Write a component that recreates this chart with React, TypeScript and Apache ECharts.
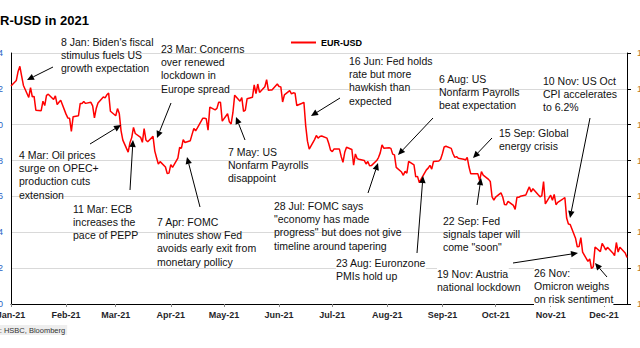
import React, { useEffect, useRef } from "react";
import * as echarts from "echarts";

const MONTHS = ["Jan", "Feb", "Mar", "Apr", "May", "Jun", "Jul", "Aug", "Sep", "Oct", "Nov", "Dec"];
const SERIES_NAME = "EUR-USD";
const TITLE = "EUR-USD in 2021";
const SOURCE = "Source: HSBC, Bloomberg";

// [day of month, EUR-USD]
const jan: [number, number][] = [[1, 1.2216], [4, 1.2247], [5, 1.2297], [6, 1.2326], [7, 1.2271], [8, 1.2219], [11, 1.2152], [12, 1.2207], [13, 1.2156], [14, 1.2158], [15, 1.2081], [18, 1.2078], [19, 1.2131], [20, 1.2107], [21, 1.2164], [22, 1.2170], [25, 1.2141], [26, 1.2161], [27, 1.2112], [28, 1.2125], [29, 1.2137]];
const feb: [number, number][] = [[1, 1.2059], [2, 1.2038], [3, 1.2036], [4, 1.1963], [5, 1.2045], [8, 1.2050], [9, 1.2119], [10, 1.2118], [11, 1.2130], [12, 1.2119], [15, 1.2125], [16, 1.2105], [17, 1.2038], [18, 1.2090], [19, 1.2121], [22, 1.2155], [23, 1.2150], [24, 1.2167], [25, 1.2176], [26, 1.2075]];
const mar: [number, number][] = [[1, 1.2050], [2, 1.2090], [3, 1.2062], [4, 1.1966], [5, 1.1914], [8, 1.1847], [9, 1.1899], [10, 1.1928], [11, 1.1985], [12, 1.1951], [15, 1.1930], [16, 1.1902], [17, 1.1978], [18, 1.1915], [19, 1.1905], [22, 1.1935], [23, 1.1853], [24, 1.1816], [25, 1.1780], [26, 1.1794], [29, 1.1764], [30, 1.1728], [31, 1.1730]];
const apr: [number, number][] = [[1, 1.1777], [2, 1.1762], [5, 1.1813], [6, 1.1873], [7, 1.1869], [8, 1.1916], [9, 1.1901], [12, 1.1911], [13, 1.1946], [14, 1.1979], [15, 1.1966], [16, 1.1983], [19, 1.2036], [20, 1.2036], [21, 1.2033], [22, 1.1970], [23, 1.2098], [26, 1.2083], [27, 1.2091], [28, 1.2125], [29, 1.2125], [30, 1.2020]];
const may: [number, number][] = [[3, 1.2061], [4, 1.2016], [5, 1.2004], [6, 1.2067], [7, 1.2165], [10, 1.2131], [11, 1.2151], [12, 1.2074], [13, 1.2081], [14, 1.2145], [17, 1.2153], [18, 1.2222], [19, 1.2174], [20, 1.2227], [21, 1.2180], [24, 1.2212], [25, 1.2251], [26, 1.2192], [27, 1.2193], [28, 1.2194], [31, 1.2227]];
const jun: [number, number][] = [[1, 1.2213], [2, 1.2211], [3, 1.2127], [4, 1.2166], [7, 1.2190], [8, 1.2172], [9, 1.2178], [10, 1.2176], [11, 1.2107], [14, 1.2120], [15, 1.2125], [16, 1.1995], [17, 1.1908], [18, 1.1864], [21, 1.1917], [22, 1.1940], [23, 1.1925], [24, 1.1934], [25, 1.1937], [28, 1.1925], [29, 1.1895], [30, 1.1858]];
const jul: [number, number][] = [[1, 1.1850], [2, 1.1865], [5, 1.1864], [6, 1.1823], [7, 1.1790], [8, 1.1846], [9, 1.1874], [12, 1.1862], [13, 1.1775], [14, 1.1837], [15, 1.1811], [16, 1.1807], [19, 1.1801], [20, 1.1781], [21, 1.1795], [22, 1.1771], [23, 1.1772], [26, 1.1800], [27, 1.1817], [28, 1.1843], [29, 1.1888], [30, 1.1869]];
const aug: [number, number][] = [[2, 1.1871], [3, 1.1868], [4, 1.1836], [5, 1.1832], [6, 1.1762], [9, 1.1736], [10, 1.1718], [11, 1.1740], [12, 1.1730], [13, 1.1796], [16, 1.1776], [17, 1.1709], [18, 1.1712], [19, 1.1677], [20, 1.1697], [23, 1.1748], [24, 1.1758], [25, 1.1773], [26, 1.1752], [27, 1.1795], [30, 1.1798], [31, 1.1807]];
const sep: [number, number][] = [[1, 1.1838], [2, 1.1876], [3, 1.1880], [6, 1.1868], [7, 1.1838], [8, 1.1818], [9, 1.1822], [10, 1.1813], [13, 1.1808], [14, 1.1803], [15, 1.1818], [16, 1.1764], [17, 1.1726], [20, 1.1726], [21, 1.1726], [22, 1.1688], [23, 1.1738], [24, 1.1719], [27, 1.1695], [28, 1.1683], [29, 1.1597], [30, 1.1580]];
const oct: [number, number][] = [[1, 1.1596], [4, 1.1620], [5, 1.1597], [6, 1.1555], [7, 1.1553], [8, 1.1572], [11, 1.1550], [12, 1.1528], [13, 1.1595], [14, 1.1595], [15, 1.1601], [18, 1.1608], [19, 1.1632], [20, 1.1653], [21, 1.1625], [22, 1.1643], [25, 1.1609], [26, 1.1598], [27, 1.1603], [28, 1.1683], [29, 1.1558]];
const nov: [number, number][] = [[1, 1.1607], [2, 1.1579], [3, 1.1611], [4, 1.1554], [5, 1.1567], [8, 1.1587], [9, 1.1594], [10, 1.1480], [11, 1.1446], [12, 1.1444], [15, 1.1367], [16, 1.1319], [17, 1.1320], [18, 1.1370], [19, 1.1289], [22, 1.1238], [23, 1.1251], [24, 1.1198], [25, 1.1208], [26, 1.1318], [29, 1.1292], [30, 1.1338]];
const dec: [number, number][] = [[1, 1.1321], [2, 1.1301], [3, 1.1316], [6, 1.1285], [7, 1.1270], [8, 1.1343], [9, 1.1290], [10, 1.1316], [13, 1.1285], [14, 1.1259]];

const Y_MIN = 1.10;
const Y_MAX = 1.24;
const Y_STEP = 0.02;

// Annotation texts
const noteTexts = [
  "8 Jan: Biden's fiscal\nstimulus fuels US\ngrowth expectation",
  "23 Mar: Concerns\nover renewed\nlockdown in\nEurope spread",
  "4 Mar: Oil prices\nsurge on OPEC+\nproduction cuts\nextension",
  "11 Mar: ECB\nincreases the\npace of PEPP",
  "7 Apr: FOMC\nminutes show Fed\navoids early exit from\nmonetary pollicy",
  "7 May: US\nNonfarm Payrolls\ndisappoint",
  "16 Jun: Fed holds\nrate but more\nhawkish than\nexpected",
  "6 Aug: US\nNonfarm Payrolls\nbeat expectation",
  "10 Nov: US Oct\nCPI accelerates\nto 6.2%",
  "15 Sep: Global\nenergy crisis",
  "28 Jul: FOMC says\n\"economy has made\nprogress\" but does not give\ntimeline around tapering",
  "23 Aug: Euronzone\nPMIs hold up",
  "22 Sep: Fed\nsignals taper will\ncome \"soon\"",
  "19 Nov: Austria\nnational lockdown",
  "26 Nov:\nOmicron weighs\non risk sentiment",
];

// layout (viewport pixels): text top-left, arrow start -> tip, lines with white fill
const noteLayout: { x: number; y: number; a: [number, number, number, number]; fill?: number[] }[] = [
  { x: 61, y: 35, a: [53, 67, 27, 80] },
  { x: 161, y: 42, a: [171, 103, 157, 138], fill: [3] },
  { x: 19, y: 148, a: [90, 144, 121, 125] },
  { x: 73, y: 202, a: [130, 190, 133, 140] },
  { x: 157, y: 215, a: [200, 207, 187, 157] },
  { x: 228, y: 145, a: [245, 140, 236, 117] },
  { x: 349, y: 54, a: [340, 98, 311, 116], fill: [1, 2, 3] },
  { x: 439, y: 72, a: [433, 118, 398, 155] },
  { x: 543, y: 74, a: [590, 118, 570, 218] },
  { x: 499, y: 126, a: [492, 138, 473, 158] },
  { x: 274, y: 199, a: [368, 193, 378, 163] },
  { x: 336, y: 256, a: [417, 253, 423, 176], fill: [0, 1] },
  { x: 443, y: 214, a: [477, 205, 481, 178] },
  { x: 437, y: 267, a: [513, 263, 578, 253], fill: [0, 1] },
  { x: 534, y: 266, a: [607, 277, 595, 263], fill: [0, 1, 2] },
];

const OX = 40; // canvas offset to the left of the viewport (reference is cropped)
const W = 720;
const H = 348;
const FONT = "'Liberation Sans', Arial, sans-serif";
const LINE_H = 13.3;

function arrow(x1: number, y1: number, x2: number, y2: number) {
  const dx = x2 - x1;
  const dy = y2 - y1;
  const len = Math.sqrt(dx * dx + dy * dy);
  const ux = dx / len;
  const uy = dy / len;
  const L = 7;
  const w = 3.2;
  const bx = x2 - ux * L;
  const by = y2 - uy * L;
  const nx = -uy;
  const ny = ux;
  return [
    {
      type: "line",
      silent: true,
      z: 20,
      shape: { x1: x1 + OX, y1, x2: bx + OX, y2: by },
      style: { stroke: "#000", lineWidth: 1 },
    },
    {
      type: "polygon",
      silent: true,
      z: 20,
      shape: {
        points: [
          [x2 + OX, y2],
          [bx + nx * w + OX, by + ny * w],
          [bx - nx * w + OX, by - ny * w],
        ],
      },
      style: { fill: "#000" },
    },
  ];
}

export default function App() {
  const ref = useRef<HTMLDivElement>(null);

  useEffect(() => {
    if (!ref.current) return;
    const chart = echarts.init(ref.current, undefined, { renderer: "svg" });

    const months = [jan, feb, mar, apr, may, jun, jul, aug, sep, oct, nov, dec];
    const data = months.flatMap((arr, m) =>
      arr.map(([d, v]) => [new Date(2021, m, d).getTime(), v])
    );

    const graphics: any[] = [
      {
        type: "text",
        x: 22,
        y: 14,
        style: { text: TITLE, font: `bold 13px ${FONT}`, fill: "#000" },
      },
      {
        type: "text",
        x: 14,
        y: 325,
        style: {
          text: SOURCE,
          font: `7.5px ${FONT}`,
          fill: "#333",
          backgroundColor: "#eeeeee",
          padding: [1, 2],
        },
      },
    ];
    noteTexts.forEach((t, i) => {
      const l = noteLayout[i];
      t.split("\n").forEach((line, k) => {
        const filled = (l.fill || []).indexOf(k) >= 0;
        graphics.push({
          type: "text",
          x: l.x + OX,
          y: l.y + k * LINE_H,
          silent: true,
          z: 10,
          style: {
            text: line,
            font: `10.5px ${FONT}`,
            fill: "#111",
            lineHeight: LINE_H,
            verticalAlign: "top",
            backgroundColor: filled ? "#ffffff" : undefined,
          },
        });
      });
      graphics.push(...arrow(l.a[0], l.a[1], l.a[2], l.a[3]));
    });

    chart.setOption({
      animation: false,
      backgroundColor: "#fff",
      textStyle: { fontFamily: FONT },
      legend: {
        left: 286 + OX,
        top: 33,
        itemWidth: 25,
        itemHeight: 2,
        icon: "rect",
        itemGap: 4,
        data: [{ name: SERIES_NAME, itemStyle: { color: "#ff0000" } }],
        textStyle: { fontSize: 9, fontWeight: "bold", color: "#000", fontFamily: FONT },
      },
      grid: { left: 11 + OX, right: W - (627 + OX), top: 53, bottom: H - 304, containLabel: false },
      xAxis: {
        type: "time",
        min: new Date(2021, 0, 1).getTime(),
        max: new Date(2021, 11, 14).getTime(),
        minInterval: 28 * 86400000,
        maxInterval: 31 * 86400000,
        splitNumber: 12,
        axisLine: { show: true, lineStyle: { color: "#000", width: 1 } },
        axisTick: { show: true, length: 3, lineStyle: { color: "#888" } },
        splitLine: { show: false },
        axisLabel: {
          fontSize: 9,
          fontWeight: "bold",
          color: "#1f1f2a",
          margin: 6,
          hideOverlap: false,
          formatter: (v: number) => `${MONTHS[new Date(v).getMonth()]}-21`,
        },
      },
      yAxis: [
        {
          type: "value",
          min: Y_MIN,
          max: Y_MAX,
          interval: Y_STEP,
          position: "left",
          axisLine: { show: true, lineStyle: { color: "#000", width: 1 } },
          axisTick: { show: false },
          splitLine: { show: true, lineStyle: { color: "#d9d9d9", width: 1 } },
          axisLabel: {
            fontSize: 9,
            color: "#2a62c4",
            margin: 8,
            formatter: (v: number) => v.toFixed(2),
          },
        },
        {
          type: "value",
          min: Y_MIN,
          max: Y_MAX,
          interval: Y_STEP,
          position: "right",
          axisLine: { show: true, lineStyle: { color: "#000", width: 1 } },
          axisTick: { show: true, length: 4, lineStyle: { color: "#000" } },
          splitLine: { show: false },
          axisLabel: {
            fontSize: 9,
            color: "#c07a20",
            margin: 10,
            formatter: (v: number) => v.toFixed(2),
          },
        },
      ],
      series: [
        {
          name: SERIES_NAME,
          type: "line",
          data,
          showSymbol: false,
          symbol: "none",
          lineStyle: { color: "#ff0000", width: 1.5 },
          itemStyle: { color: "#ff0000" },
          z: 3,
        },
      ],
      graphic: graphics,
    });

    return () => chart.dispose();
  }, []);

  return (
    <div
      ref={ref}
      style={{ position: "fixed", left: -OX, top: 0, width: W, height: H, background: "#fff" }}
    />
  );
}
